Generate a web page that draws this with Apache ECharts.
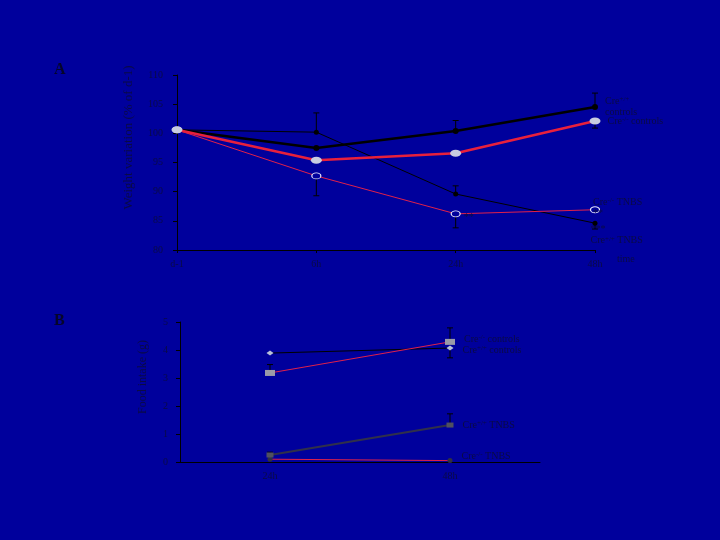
<!DOCTYPE html>
<html lang="en">
<head>
  <meta charset="UTF-8">
  <title>Weight and food intake</title>
  <script src="https://cdn.jsdelivr.net/npm/echarts@6/dist/echarts.min.js"></script>
  <style>
    html, body { margin: 0; padding: 0; background: #00009c; }
  </style>
</head>
<body>
  <div id="chart" style="width:720px;height:540px;"></div>
  <script>
    // ---- panel A : weight variation ----
    var timesA = ['d-1', '6h', '24h', '48h'];
    var wtCtrlPos = [100.6, 97.5, 100.4, 104.5];   // Cre+/+ controls
    var wtCtrlNeg = [100.6, 95.4, 96.6, 102.1];    // Cre-/- controls
    var wtTnbsPos = [100.6, 100.2, 89.6, 84.6];    // Cre+/+ TNBS
    var wtTnbsNeg = [100.6, 92.7, 86.2, 86.9];     // Cre-/- TNBS
    // error bars: + goes up, - goes down
    var errCtrlPos = [0, 0, 1.8, 2.4];
    var errCtrlNeg = [0, 0, 0, -1.2];
    var errTnbsPos = [0, 3.3, 1.4, -1.0];
    var errTnbsNeg = [0, -3.4, -2.4, 0];

    // ---- panel B : food intake ----
    var timesB = ['24h', '48h'];
    var foodCtrlNeg = [3.18, 4.29];
    var foodCtrlPos = [3.89, 4.07];
    var foodTnbsPos = [0.25, 1.32];
    var foodTnbsNeg = [0.10, 0.05];
    var errFoodCtrlNeg = [0.3, 0.5];
    var errFoodCtrlPos = [0, -0.35];
    var errFoodTnbsPos = [0.1, 0.4];

    var txt = '#0a0a45';
    var font = '"Liberation Serif", "DejaVu Serif", serif';
    var supRich = {
      s: { fontSize: 7, verticalAlign: 'top', padding: [0, 0, 5, 0], color: txt, fontFamily: font },
      n: { fontSize: 10, color: txt, fontFamily: font }
    };

    var chart = echarts.init(document.getElementById('chart'));

    function errSeries(xi, yi, vals, errs) {
      var d = [];
      for (var i = 0; i < vals.length; i++) {
        if (errs[i] !== 0) d.push([i, vals[i], vals[i] + errs[i]]);
      }
      return {
        type: 'custom', xAxisIndex: xi, yAxisIndex: yi, silent: true, z: 1,
        renderItem: function (params, api) {
          var a = api.coord([api.value(0), api.value(1)]);
          var b = api.coord([api.value(0), api.value(2)]);
          return {
            type: 'group',
            children: [
              { type: 'line', shape: { x1: a[0], y1: a[1], x2: b[0], y2: b[1] }, style: { stroke: '#000', lineWidth: 1 } },
              { type: 'line', shape: { x1: b[0] - 3, y1: b[1], x2: b[0] + 3, y2: b[1] }, style: { stroke: '#000', lineWidth: 1 } }
            ]
          };
        },
        data: d
      };
    }

    function endLabel(vals, text, dx, dy) {
      return vals.map(function (v, i) {
        if (i < vals.length - 1) return v;
        return {
          value: v,
          label: {
            show: true, position: 'right', offset: [dx, dy],
            formatter: text, rich: supRich, lineHeight: 11
          }
        };
      });
    }

    var option = {
      backgroundColor: '#00009c',
      animation: false,
      textStyle: { fontFamily: font },
      graphic: [
        { type: 'text', left: 54, top: 62, style: { text: 'A', font: 'bold 16px ' + font, fill: '#05052a' } },
        { type: 'text', left: 54, top: 313, style: { text: 'B', font: 'bold 16px ' + font, fill: '#05052a' } }
      ],
      grid: [
        { left: 177, right: 125, top: 75, bottom: 290 },
        { left: 180, right: 180, top: 322, bottom: 78 }
      ],
      xAxis: [
        {
          gridIndex: 0, type: 'category', data: timesA, boundaryGap: false,
          name: 'time', nameGap: 22, nameTextStyle: { color: txt, fontSize: 10, verticalAlign: 'top', padding: [4, 0, 0, 0] },
          axisLine: { lineStyle: { color: '#000', width: 1 } },
          axisTick: { show: true, alignWithLabel: true, length: 3, lineStyle: { color: '#000' } },
          axisLabel: { color: txt, fontSize: 10, margin: 9 }
        },
        {
          gridIndex: 1, type: 'category', data: timesB, boundaryGap: true,
          axisLine: { lineStyle: { color: '#000', width: 1 } },
          axisTick: { show: false },
          axisLabel: { color: txt, fontSize: 10, margin: 9 }
        }
      ],
      yAxis: [
        {
          gridIndex: 0, type: 'value', min: 80, max: 110, interval: 5,
          name: 'Weight variation (% of d-1)', nameLocation: 'middle', nameGap: 42, nameRotate: 90,
          nameTextStyle: { color: txt, fontSize: 13, padding: [0, 0, 0, 50] },
          axisLine: { show: true, lineStyle: { color: '#000' } },
          axisTick: { show: true, length: 4, lineStyle: { color: '#000' } },
          axisLabel: { color: txt, fontSize: 10, margin: 14 },
          splitLine: { show: false }
        },
        {
          gridIndex: 1, type: 'value', min: 0, max: 5, interval: 1,
          name: 'Food intake (g)', nameLocation: 'middle', nameGap: 31, nameRotate: 90,
          nameTextStyle: { color: txt, fontSize: 12, padding: [0, 0, 0, 30] },
          axisLine: { show: true, lineStyle: { color: '#000' } },
          axisTick: { show: true, length: 4, lineStyle: { color: '#000' } },
          axisLabel: { color: txt, fontSize: 10, margin: 12 },
          splitLine: { show: false }
        }
      ],
      series: [
        // panel A lines
        {
          name: 'Cre+/+ TNBS', type: 'line', xAxisIndex: 0, yAxisIndex: 0, z: 2,
          data: endLabel(wtTnbsPos, '{n|***}\n{n|Cre}{s|+/+}{n| TNBS}', -12, 12),
          lineStyle: { color: '#000', width: 1 },
          symbol: 'circle', symbolSize: 5, itemStyle: { color: '#000' }
        },
        {
          name: 'Cre-/- TNBS', type: 'line', xAxisIndex: 0, yAxisIndex: 0, z: 3,
          data: wtTnbsNeg.map(function (v, i) {
            if (i === 2) return { value: v, label: { show: true, position: 'right', offset: [-2, 4], formatter: '{n|**}', rich: supRich } };
            if (i === 3) return { value: v, label: { show: true, position: 'right', offset: [-12, -2], formatter: '{n|Cre}{s|-/-}{n| TNBS}\n{n|**}', rich: supRich, lineHeight: 11 } };
            return v;
          }),
          lineStyle: { color: '#e0204a', width: 1 },
          symbol: 'circle', symbolSize: [9, 6], itemStyle: { color: '#00009c', borderColor: '#e8e8ff', borderWidth: 1 }
        },
        {
          name: 'Cre+/+ controls', type: 'line', xAxisIndex: 0, yAxisIndex: 0, z: 4,
          data: endLabel(wtCtrlPos, '{n|Cre}{s|+/+}\n{n|controls}', 2, 0),
          lineStyle: { color: '#000', width: 2.5 },
          symbol: 'circle', symbolSize: 6, itemStyle: { color: '#000' }
        },
        {
          name: 'Cre-/- controls', type: 'line', xAxisIndex: 0, yAxisIndex: 0, z: 5,
          data: endLabel(wtCtrlNeg, '{n|Cre}{s|-/-}{n| controls}', 2, 0),
          lineStyle: { color: '#e8203c', width: 2.5 },
          symbol: 'circle', symbolSize: [11, 7], itemStyle: { color: '#c8cce0' }
        },
        errSeries(0, 0, wtCtrlPos, errCtrlPos),
        errSeries(0, 0, wtCtrlNeg, errCtrlNeg),
        errSeries(0, 0, wtTnbsPos, errTnbsPos),
        errSeries(0, 0, wtTnbsNeg, errTnbsNeg),

        // panel B lines
        {
          name: 'B Cre+/+ controls', type: 'line', xAxisIndex: 1, yAxisIndex: 1, z: 2,
          data: endLabel(foodCtrlPos, '{n|Cre}{s|+/+}{n| controls}', 4, 2),
          lineStyle: { color: '#000', width: 1 },
          symbol: 'diamond', symbolSize: [7, 5], itemStyle: { color: '#b8c0d8' }
        },
        {
          name: 'B Cre-/- controls', type: 'line', xAxisIndex: 1, yAxisIndex: 1, z: 3,
          data: endLabel(foodCtrlNeg, '{n|Cre}{s|-/-}{n| controls}', 4, -3),
          lineStyle: { color: '#e0204a', width: 1 },
          symbol: 'rect', symbolSize: [10, 6], itemStyle: { color: '#9a9aa8' }
        },
        {
          name: 'B Cre+/+ TNBS', type: 'line', xAxisIndex: 1, yAxisIndex: 1, z: 3,
          data: endLabel(foodTnbsPos, '{n|Cre}{s|+/+}{n| TNBS}', 4, 0),
          lineStyle: { color: '#30304a', width: 2 },
          symbol: 'rect', symbolSize: [7, 5], itemStyle: { color: '#505060' }
        },
        {
          name: 'B Cre-/- TNBS', type: 'line', xAxisIndex: 1, yAxisIndex: 1, z: 2,
          data: endLabel(foodTnbsNeg, '{n|Cre}{s|-/-}{n| TNBS}', 4, -4),
          lineStyle: { color: '#e0204a', width: 1 },
          symbol: 'circle', symbolSize: 5, itemStyle: { color: '#303040' }
        },
        errSeries(1, 1, foodCtrlNeg, errFoodCtrlNeg),
        errSeries(1, 1, foodCtrlPos, errFoodCtrlPos),
        errSeries(1, 1, foodTnbsPos, errFoodTnbsPos)
      ]
    };

    chart.setOption(option);
  </script>
</body>
</html>
